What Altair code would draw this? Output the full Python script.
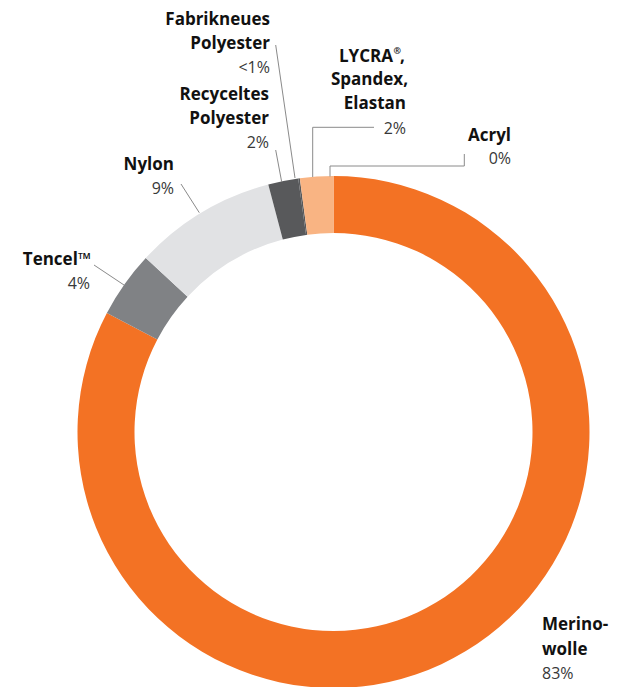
import altair as alt
import pandas as pd

# ---- data ----
materials = ["Merinowolle", "Tencel", "Nylon", "Recyceltes Polyester",
             "Fabrikneues Polyester", "LYCRA", "Acryl"]
shares = [82.7, 4.2, 9.0, 1.9, 0.1, 2.1, 0.0]
colors = ["#F37224", "#808285", "#E1E2E4", "#58595B", "#58595B", "#F9B483", "#F9B483"]

# label text lines
label_text = ["Fabrikneues", "Polyester", "<1%",
              "Recyceltes", "Polyester", "2%",
              "LYCRA", "Spandex,", "Elastan", "2%",
              "Acryl", "0%",
              "Nylon", "9%",
              "Tencel™", "4%",
              "Merino-", "wolle", "83%",
              ","]
label_bold = [1, 1, 0, 1, 1, 0, 1, 1, 1, 0, 1, 0, 1, 0, 1, 0, 1, 1, 0, 1]
label_x = [270, 270, 270, 269, 269, 269, 393, 408, 406, 406, 511, 511,
           174, 174, 91, 90, 542, 542, 542, 400]
label_y = [20, 43.5, 68, 95, 118.5, 142.5, 57, 80, 104, 128.5, 136, 158.5,
           165, 189, 259.5, 284, 625, 649.5, 674, 57]
label_side = ["right"] * 16 + ["left"] * 4

# superscript mark
sup_text = ["®"]
sup_x = [393.5]
sup_y = [51]

# leader line segments (x1, y1, x2, y2) in page pixels
seg_x1 = [275.7, 275.7, 374, 312.7, 464.3, 464.3, 330, 181, 94]
seg_y1 = [45, 150, 127.3, 127.3, 154, 166, 166, 184, 265]
seg_x2 = [295, 281.7, 312.7, 312.7, 464.3, 330, 330, 199.3, 124]
seg_y2 = [178, 182, 127.3, 177, 166, 166, 176.5, 212.7, 285]

OFF = 8  # page margin
CX, CY = 333.5 - OFF, 432 - OFF

W, H = 616, 679

df = pd.DataFrame({"material": materials, "share": shares,
                   "idx": list(range(len(materials)))})

labels = pd.DataFrame({"text": label_text, "bold": label_bold,
                       "x": [v - OFF for v in label_x],
                       "y": [v - OFF for v in label_y],
                       "side": label_side})
sups = pd.DataFrame({"text": sup_text, "x": [v - OFF for v in sup_x],
                     "y": [v - OFF for v in sup_y]})
segs = pd.DataFrame({"x": [v - OFF for v in seg_x1], "y": [v - OFF for v in seg_y1],
                     "x2": [v - OFF for v in seg_x2], "y2": [v - OFF for v in seg_y2]})

ring = alt.Chart(df).mark_arc(outerRadius=256, innerRadius=199).encode(
    theta=alt.Theta("share:Q", stack=True),
    order=alt.Order("idx:Q"),
    color=alt.Color("material:N", scale=alt.Scale(domain=materials, range=colors), legend=None),
    x=alt.value(CX),
    y=alt.value(CY),
)

lines = alt.Chart(segs).mark_rule(color="#8a8a8a", strokeWidth=1).encode(
    x=alt.X("x:Q", scale=None), y=alt.Y("y:Q", scale=None),
    x2="x2:Q", y2="y2:Q",
)

def text_layer(bold, side):
    sub = labels[(labels["bold"] == bold) & (labels["side"] == side)]
    return alt.Chart(sub).mark_text(
        align=side, baseline="middle", font="Open Sans",
        fontSize=17 if bold else 16,
        fontWeight="bold" if bold else "normal",
        color="#111111" if bold else "#383838",
    ).encode(x=alt.X("x:Q", scale=None), y=alt.Y("y:Q", scale=None), text="text:N")

sup_layer = alt.Chart(sups).mark_text(
    align="left", baseline="middle", font="Open Sans", fontSize=9,
    fontWeight="bold", color="#111111",
).encode(x=alt.X("x:Q", scale=None), y=alt.Y("y:Q", scale=None), text="text:N")

chart = alt.layer(
    ring, lines,
    text_layer(1, "right"), text_layer(0, "right"),
    text_layer(1, "left"), text_layer(0, "left"),
    sup_layer,
).properties(
    width=W, height=H, padding=0,
    autosize=alt.AutoSizeParams(type="none"),
).configure_view(stroke=None)

chart.save("out.html", embed_options={"renderer": "svg", "actions": False})
